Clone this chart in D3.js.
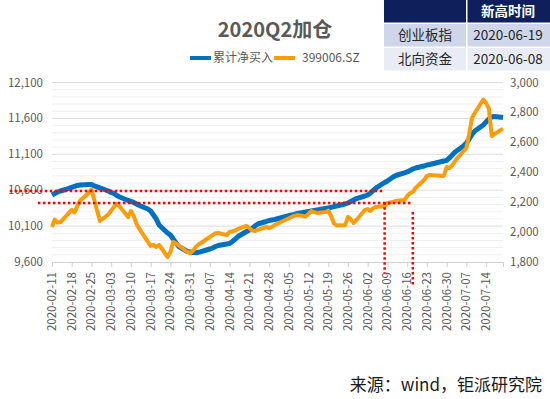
<!DOCTYPE html>
<html>
<head>
<meta charset="utf-8">
<script src="https://cdn.jsdelivr.net/npm/d3@7"></script>
<style>
  body { margin: 0; background: #fff; }
  svg { display: block; font-family: "Noto Sans CJK SC", "Noto Sans", sans-serif; }
</style>
</head>
<body>
<div id="viz"></div>
<script>
// trading days shown on the chart
const dates = [
  '2020-02-11','2020-02-12','2020-02-13','2020-02-14','2020-02-17','2020-02-18','2020-02-19','2020-02-20','2020-02-21','2020-02-24','2020-02-25','2020-02-26','2020-02-27','2020-02-28',
  '2020-03-02','2020-03-03','2020-03-04','2020-03-05','2020-03-06','2020-03-09','2020-03-10','2020-03-11','2020-03-12','2020-03-13','2020-03-16','2020-03-17','2020-03-18','2020-03-19','2020-03-20','2020-03-23','2020-03-24','2020-03-25','2020-03-26','2020-03-27','2020-03-30','2020-03-31',
  '2020-04-01','2020-04-02','2020-04-03','2020-04-07','2020-04-08','2020-04-09','2020-04-10','2020-04-13','2020-04-14','2020-04-15','2020-04-16','2020-04-17','2020-04-20','2020-04-21','2020-04-22','2020-04-23','2020-04-24','2020-04-27','2020-04-28','2020-04-29','2020-04-30',
  '2020-05-06','2020-05-07','2020-05-08','2020-05-11','2020-05-12','2020-05-13','2020-05-14','2020-05-15','2020-05-18','2020-05-19','2020-05-20','2020-05-21','2020-05-22','2020-05-25','2020-05-26','2020-05-27','2020-05-28','2020-05-29',
  '2020-06-01','2020-06-02','2020-06-03','2020-06-04','2020-06-05','2020-06-08','2020-06-09','2020-06-10','2020-06-11','2020-06-12','2020-06-15','2020-06-16','2020-06-17','2020-06-18','2020-06-19','2020-06-22','2020-06-23','2020-06-24','2020-06-29','2020-06-30',
  '2020-07-01','2020-07-02','2020-07-03','2020-07-06','2020-07-07','2020-07-08','2020-07-09','2020-07-10','2020-07-13','2020-07-14','2020-07-15','2020-07-16','2020-07-17','2020-07-20'
];

// 累计净买入 (left axis)
const netBuy = [
  10533,10554,10575,10589,10624,10638,10652,10666,10672,10679,10679,10659,10645,10631,
  10589,10568,10554,10526,10505,10457,10443,10429,10408,10387,10338,10310,10255,10199,10115,10004,9976,9920,9865,9816,9746,9739,
  9732,9730,9735,9781,9795,9816,9830,9851,9858,9886,9920,9955,10025,10046,10067,10101,10129,10164,10178,10185,10192,
  10255,10262,10276,10296,10303,10310,10317,10324,10345,10352,10359,10373,10380,10408,10422,10443,10464,10484,
  10519,10533,10561,10596,10631,10707,10728,10756,10784,10805,10840,10854,10874,10895,10909,10937,10951,10958,11007,11014,
  11049,11090,11132,11216,11257,11313,11376,11425,11508,11550,11592,11620,11627,11613
];

// 399006.SZ (right axis)
const chinext = [
  2034,2084,2064,2067,2128,2148,2131,2174,2211,2261,2285,2214,2144,2074,
  2118,2144,2168,2188,2171,2101,2141,2108,2054,2021,1934,1907,1914,1900,1914,1833,1867,1934,1924,1910,1867,1860,
  1874,1900,1917,1967,1980,1992,1994,1980,2001,2004,2011,2021,2041,2027,2011,2007,2014,2034,2027,2034,2047,
  2101,2108,2114,2104,2121,2141,2134,2128,2134,2143,2108,2059,2044,2047,2101,2087,2061,2081,
  2148,2154,2141,2161,2168,2174,2194,2198,2201,2208,2214,2241,2261,2268,2295,2348,2375,2382,2375,2435,
  2428,2448,2475,2542,2562,2656,2763,2796,2886,2863,2823,2642,2656,2692
];

const weekTicks = [
  '2020-02-11','2020-02-18','2020-02-25','2020-03-03','2020-03-10','2020-03-17','2020-03-24','2020-03-31',
  '2020-04-07','2020-04-14','2020-04-21','2020-04-28','2020-05-05','2020-05-12','2020-05-19','2020-05-26',
  '2020-06-02','2020-06-09','2020-06-16','2020-06-23','2020-06-30','2020-07-07','2020-07-14'
];
const leftTicks = [9600, 10100, 10600, 11100, 11600, 12100];
const rightTicks = [1800, 2000, 2200, 2400, 2600, 2800, 3000];

const seriesNames = ['累计净买入', '399006.SZ'];
const tableHead = ['', '新高时间'];
const tableRows = [['创业板指', '2020-06-19'], ['北向资金', '2020-06-08']];

// red dotted markers: previous highs and the dates they were broken
const hMarks = [
  {axis: 'left',  value: 10589, from: '2020-01-27', to: '2020-06-08'},
  {axis: 'right', value: 2194,  from: '2020-02-06', to: '2020-06-18'}
];
const vMarks = [
  {date: '2020-06-08', from: 2200, to: 1726},
  {date: '2020-06-18', from: 2134, to: 1646}
];

const W = 550, H = 399;
const plot = {left: 52, right: 503, top: 82.5, bottom: 262};
const parse = d3.timeParse('%Y-%m-%d');
const grey = '#595959';

const svg = d3.select('#viz').append('svg')
  .attr('width', W)
  .attr('height', H);

const x = d3.scaleTime()
  .domain([parse('2020-02-11'), parse('2020-07-20')])
  .range([plot.left, plot.right]);

const yL = d3.scaleLinear().domain([9600, 12100]).range([plot.bottom, plot.top]);
const yR = d3.scaleLinear().domain([1800, 3000]).range([plot.bottom, plot.top]);

// gridlines: light every 100, darker at the labelled ticks
svg.append('g')
  .selectAll('line')
  .data(d3.range(9600, 12101, 100).filter(v => !leftTicks.includes(v)))
  .join('line')
  .attr('x1', plot.left).attr('x2', plot.right)
  .attr('y1', d => yL(d)).attr('y2', d => yL(d))
  .attr('stroke', '#efefef');

svg.append('g')
  .selectAll('line')
  .data(leftTicks.slice(1))
  .join('line')
  .attr('x1', plot.left).attr('x2', plot.right)
  .attr('y1', d => yL(d)).attr('y2', d => yL(d))
  .attr('stroke', '#dcdcdc');

// x axis
let xAxis = svg.append('g')
  .attr('transform', `translate(0,${plot.bottom})`)
  .call(d3.axisBottom(x).tickValues(weekTicks.map(parse)).tickSize(5).tickFormat(''));
xAxis.select('.domain').attr('stroke', '#d0d0d0');
xAxis.selectAll('.tick line').attr('stroke', '#d0d0d0');

svg.append('g')
  .selectAll('text')
  .data(weekTicks)
  .join('text')
  .attr('transform', d => `translate(${x(parse(d))},${plot.bottom + 10}) rotate(-90)`)
  .attr('dy', '0.35em')
  .attr('text-anchor', 'end')
  .attr('fill', grey)
  .style('font-size', '11.5px')
  .text(d => d);

// y axis labels
svg.append('g')
  .selectAll('text')
  .data(leftTicks)
  .join('text')
  .attr('x', 43)
  .attr('y', d => yL(d))
  .attr('dy', '0.35em')
  .attr('text-anchor', 'end')
  .attr('fill', grey)
  .style('font-size', '11.5px')
  .text(d => d3.format(',')(d));

svg.append('g')
  .selectAll('text')
  .data(rightTicks)
  .join('text')
  .attr('x', 510)
  .attr('y', d => yR(d))
  .attr('dy', '0.35em')
  .attr('fill', grey)
  .style('font-size', '11.5px')
  .text(d => d3.format(',')(d));

// lines
let rows = dates.map((d, i) => ({date: parse(d), net: netBuy[i], idx: chinext[i]}));

svg.append('path')
  .datum(rows)
  .attr('fill', 'none')
  .attr('stroke', '#0070c0')
  .attr('stroke-width', 5)
  .attr('stroke-linejoin', 'round')
  .attr('d', d3.line().x(d => x(d.date)).y(d => yL(d.net)));

svg.append('path')
  .datum(rows)
  .attr('fill', 'none')
  .attr('stroke', '#ff9c0a')
  .attr('stroke-width', 4)
  .attr('stroke-linejoin', 'round')
  .attr('d', d3.line().x(d => x(d.date)).y(d => yR(d.idx)));

// red dotted markers
svg.append('g')
  .selectAll('line')
  .data(hMarks)
  .join('line')
  .attr('x1', d => x(parse(d.from))).attr('x2', d => x(parse(d.to)))
  .attr('y1', d => (d.axis == 'left' ? yL : yR)(d.value))
  .attr('y2', d => (d.axis == 'left' ? yL : yR)(d.value))
  .attr('stroke', '#ff0000')
  .attr('stroke-width', 2.5)
  .attr('stroke-dasharray', '2.5 2.5');

svg.append('g')
  .selectAll('line')
  .data(vMarks)
  .join('line')
  .attr('x1', d => x(parse(d.date))).attr('x2', d => x(parse(d.date)))
  .attr('y1', d => yR(d.from)).attr('y2', d => yR(d.to))
  .attr('stroke', '#ff0000')
  .attr('stroke-width', 2.5)
  .attr('stroke-dasharray', '2.5 2.5');

// title
svg.append('text')
  .attr('x', 275).attr('y', 37)
  .attr('text-anchor', 'middle')
  .attr('fill', grey)
  .style('font-size', '20px')
  .style('font-weight', 'bold')
  .text('2020Q2加仓');

// legend
let legend = svg.append('g').attr('transform', 'translate(190,58)');
let legendColors = ['#0070c0', '#ff9c0a'];
let legendX = [0, 84];
seriesNames.forEach((name, i) => {
  legend.append('line')
    .attr('x1', legendX[i]).attr('x2', legendX[i] + 21)
    .attr('stroke', legendColors[i])
    .attr('stroke-width', 4);
  legend.append('text')
    .attr('x', legendX[i] + (i == 0 ? 23 : 28))
    .attr('dy', '0.35em')
    .attr('fill', grey)
    .style('font-size', '12px')
    .text(name);
});

// table top right
let table = svg.append('g');
let colX = [384, 466, 550];
let rowY = [0, 24, 48];
let rowH = 22.5;
let rowFill = ['#0e1f5b', '#cfd6ea', '#e9ecf5'];
[tableHead].concat(tableRows).forEach((r, ri) => {
  r.forEach((cell, ci) => {
    table.append('rect')
      .attr('x', colX[ci] + (ci ? 1.5 : 0))
      .attr('y', rowY[ri])
      .attr('width', colX[ci + 1] - colX[ci] - (ci ? 1.5 : 0))
      .attr('height', rowH)
      .attr('fill', rowFill[ri]);
    table.append('text')
      .attr('x', (colX[ci] + colX[ci + 1]) / 2)
      .attr('y', rowY[ri] + rowH / 2)
      .attr('dy', '0.35em')
      .attr('text-anchor', 'middle')
      .attr('fill', ri == 0 ? '#fff' : '#262626')
      .style('font-size', '13.5px')
      .style('font-weight', ri == 0 ? 'bold' : 'normal')
      .text(cell);
  });
});

// source
svg.append('text')
  .attr('x', 542).attr('y', 391)
  .attr('text-anchor', 'end')
  .attr('fill', '#1a1a1a')
  .style('font-size', '17px')
  .text('来源：wind，钜派研究院');
</script>
</body>
</html>
